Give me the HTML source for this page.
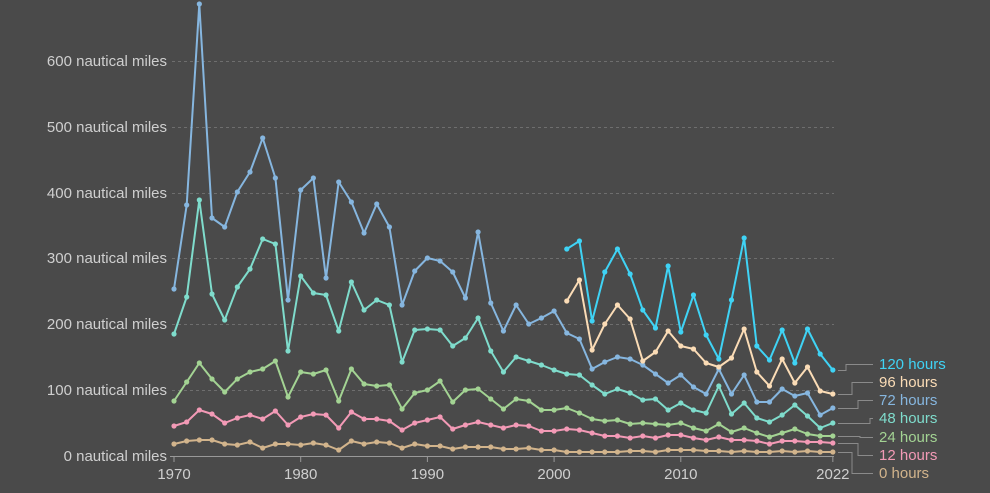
<!DOCTYPE html>
<html><head><meta charset="utf-8"><style>
html,body{margin:0;padding:0;background:#4a4a4a;}
svg{display:block;font-family:"Liberation Sans",sans-serif;}
</style></head><body>
<svg id="c" width="990" height="493" viewBox="0 0 990 493">
<rect width="990" height="493" fill="#4a4a4a"/>
<g id="grid" stroke="#6e6e6e" stroke-dasharray="3,3" stroke-width="1"></g>
<g id="ylab" fill="#cfcfcf" font-size="15" text-anchor="end"></g>
<line x1="170" y1="456.5" x2="834" y2="456.5" stroke="#999" stroke-width="1"/>
<g id="xt" stroke="#999"></g>
<g id="xl" fill="#cfcfcf" font-size="15" text-anchor="middle"></g>
<g id="series"></g>
<g id="legend" font-size="15"></g>
</svg>
<script>
const NS="http://www.w3.org/2000/svg";
function el(p,t,a,txt){const e=document.createElementNS(NS,t);for(const k in a)e.setAttribute(k,a[k]);if(txt)e.textContent=txt;p.appendChild(e);return e;}
const g=document.getElementById('grid'),yl=document.getElementById('ylab');
[61,127,193,258,324,390,456].forEach((y,i)=>{
 if(i<6)el(g,'line',{x1:172,y1:y+.5,x2:834,y2:y+.5});
 el(yl,'text',{x:167,y:y+5},(600-i*100)+' nautical miles');
});
const X=yr=>174+12.67*(yr-1970);
const xt=document.getElementById('xt'),xl=document.getElementById('xl');
[[1970,"1970"],[1980,"1980"],[1990,"1990"],[2000,"2000"],[2010,"2010"],[2022,"2022"]].forEach(([y,t])=>{
 el(xt,'line',{x1:X(y),y1:456,x2:X(y),y2:462});
 el(xl,'text',{x:X(y),y:479},t);
});
const S=[
 ["#d2b48c",1970,[444,441,440,440,444,445,442,448,444,444,445,443,445,450,441,444,442,443,448,444,446,446,449,447,447,447,449,449,448,450,450,452,452,452,452,452,451,451,452,450,450,450,451,451,452,451,452,452,451,452,451,452,452]],
 ["#f39ab6",1970,[426,422,410,414,423,418,415,419,411,425,417,414,415,428,412,419,419,421,430,423,420,417,429,425,422,425,428,425,426,431,431,429,430,433,436,436,438,436,438,435,435,438,440,437,440,440,441,444,441,441,442,442,443]],
 ["#a3d393",1970,[401,382,363,379,392,379,372,369,361,397,372,374,370,401,369,384,386,385,409,393,390,381,402,390,389,399,409,399,401,410,410,408,413,419,421,420,424,423,424,425,423,428,431,424,432,428,433,437,433,429,434,436,436]],
 ["#7fdccc",1970,[334,297,200,294,320,287,269,239,244,351,276,293,295,331,282,310,300,305,362,330,329,330,346,338,318,351,372,357,361,365,370,374,375,385,394,389,393,400,399,410,403,410,413,386,414,403,418,422,415,405,416,428,423]],
 ["#86b6df",1970,[289,205,4,218,227,192,172,138,178,300,190,178,278,182,202,233,204,227,305,271,258,261,272,298,232,303,331,305,324,318,311,333,339,369,362,357,359,365,374,383,375,387,394,369,394,375,402,402,389,396,393,415,408]],
 ["#fbdcb6",2001,[301,280,350,324,305,319,361,352,331,346,349,363,367,358,329,372,386,359,383,367,391,394]],
 ["#3fd3f5",2001,[249,241,321,272,249,274,310,328,266,332,295,335,359,300,238,346,360,330,363,329,354,370]]
];
const sg=document.getElementById('series');
S.forEach(([c,st,d])=>{
 const pts=d.map((y,i)=>X(st+i).toFixed(1)+','+y).join(' ');
 el(sg,'polyline',{points:pts,fill:'none',stroke:c,'stroke-width':2,'stroke-linejoin':'round'});
 d.forEach((y,i)=>el(sg,'circle',{cx:X(st+i),cy:y,r:2.6,fill:c}));
});
const lg=document.getElementById('legend');
const L=[["120 hours","#3fd3f5",370,364],["96 hours","#fbdcb6",394,382],["72 hours","#86b6df",408,400],["48 hours","#7fdccc",423,418],["24 hours","#a3d393",436,437],["12 hours","#f39ab6",443,455],["0 hours","#d2b48c",452,473]];
L.forEach(([t,c,sy,ly],i)=>{
 const ex=[846,852,858,870,860,858,852][i];
 el(lg,'polyline',{points:`838,${sy+.5} ${ex},${sy+.5} ${ex},${ly+.5} 873,${ly+.5}`,fill:'none',stroke:'#8a8a8a','stroke-width':1});
 el(lg,'text',{x:879,y:ly+5,fill:c},t);
});
</script>
</body></html>
